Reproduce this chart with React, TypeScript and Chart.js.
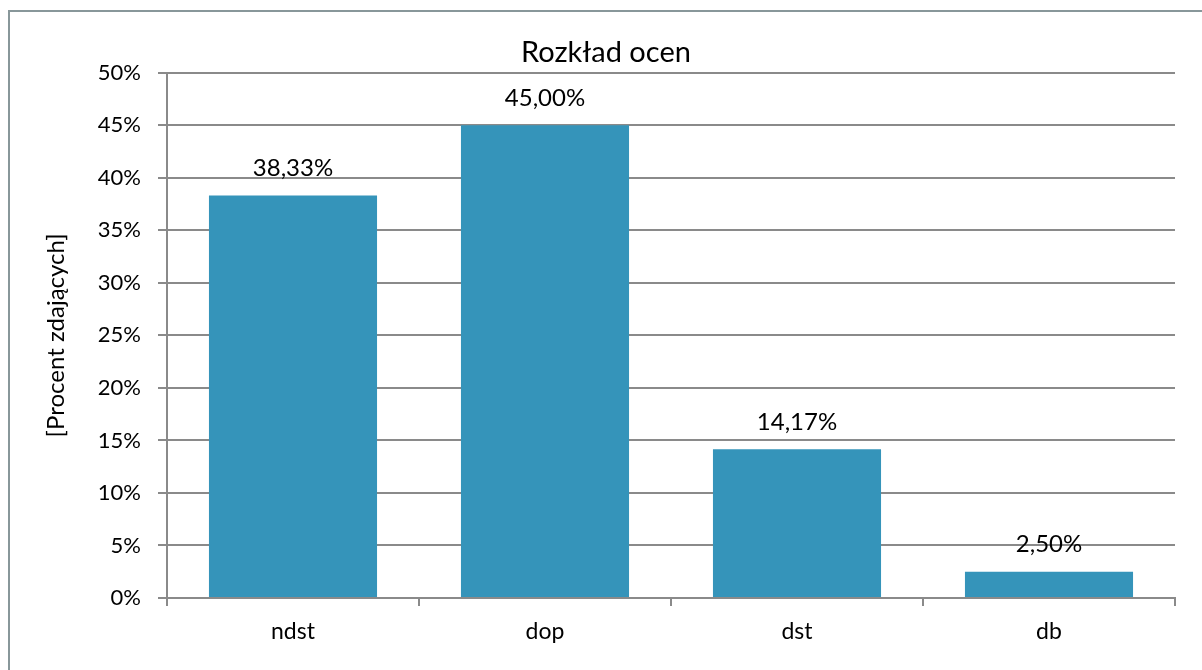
import React, { useEffect, useRef } from "react";
import { Chart, registerables } from "chart.js";

Chart.register(...registerables);

const categories = ["ndst", "dop", "dst", "db"];
const percentValues = [38.33, 45.0, 14.17, 2.5];
const yTicks = [0, 5, 10, 15, 20, 25, 30, 35, 40, 45, 50];
const chartTitle = "Rozkład ocen";
const yAxisTitle = "[Procent zdających]";

const FONT = "Lato, 'Open Sans', sans-serif";
const BAR_COLOR = "#3594ba";
const GRID_COLOR = "#8a8a8a";

const dataLabelPlugin = {
  id: "dataLabels",
  afterDatasetsDraw(chart: any) {
    const { ctx } = chart;
    const meta = chart.getDatasetMeta(0);
    ctx.save();
    ctx.font = `24px ${FONT}`;
    ctx.fillStyle = "#000";
    ctx.textAlign = "center";
    ctx.textBaseline = "middle";
    meta.data.forEach((bar: any, i: number) => {
      const v = percentValues[i];
      const label = v.toFixed(2).replace(".", ",") + "%";
      ctx.fillText(label, bar.x, bar.y - 27);
    });
    ctx.restore();
  },
};

export default function App() {
  const canvasRef = useRef<HTMLCanvasElement | null>(null);

  useEffect(() => {
    if (!canvasRef.current) return;
    const chart = new Chart(canvasRef.current, {
      type: "bar",
      data: {
        labels: categories,
        datasets: [
          {
            data: percentValues,
            backgroundColor: BAR_COLOR,
            borderWidth: 0,
            barPercentage: 1,
            categoryPercentage: 0.667,
          },
        ],
      },
      options: {
        responsive: false,
        animation: false,
        devicePixelRatio: 1,
        layout: { padding: { left: 27, right: 27, top: 0, bottom: 0 } },
        plugins: {
          legend: { display: false },
          tooltip: { enabled: false },
          title: {
            display: true,
            text: chartTitle,
            color: "#000",
            font: { family: FONT, size: 29, weight: "normal" },
            padding: { top: 23, bottom: 3 },
          },
        },
        scales: {
          x: {
            grid: {
              offset: true,
              drawOnChartArea: false,
              drawTicks: true,
              tickLength: 8,
              color: GRID_COLOR,
              lineWidth: 2,
            },
            border: { color: GRID_COLOR, width: 2 },
            ticks: {
              color: "#000",
              font: { family: FONT, size: 23 },
              padding: 12,
            },
            afterFit: (s: any) => {
              s.height = 64;
            },
          },
          y: {
            min: 0,
            max: 50,
            afterBuildTicks: (s: any) => {
              s.ticks = yTicks.map((v) => ({ value: v }));
            },
            grid: {
              color: GRID_COLOR,
              lineWidth: 2,
              tickLength: 9,
            },
            border: { color: GRID_COLOR, width: 2 },
            ticks: {
              color: "#000",
              font: { family: FONT, size: 22 },
              padding: 17,
              callback: (v: any) => v + "%",
            },
            title: {
              display: true,
              text: yAxisTitle,
              color: "#000",
              font: { family: FONT, size: 24 },
              padding: { top: 5, bottom: 0 },
            },
            afterFit: (s: any) => {
              s.width = 130;
            },
          },
        },
      },
      plugins: [dataLabelPlugin],
    });
    return () => chart.destroy();
  }, []);

  return (
    <>
      <style>{"body{margin:0;overflow:hidden;}"}</style>
      <div
        style={{
          position: "absolute",
          left: 8,
          top: 10,
          width: 1194,
          height: 660,
          boxSizing: "border-box",
          borderLeft: "2px solid #88979a",
          borderTop: "2px solid #88979a",
          background: "#fff",
        }}
      >
        <canvas
          ref={canvasRef}
          width={1192}
          height={650}
          style={{ display: "block", width: 1192, height: 650 }}
        />
      </div>
    </>
  );
}
